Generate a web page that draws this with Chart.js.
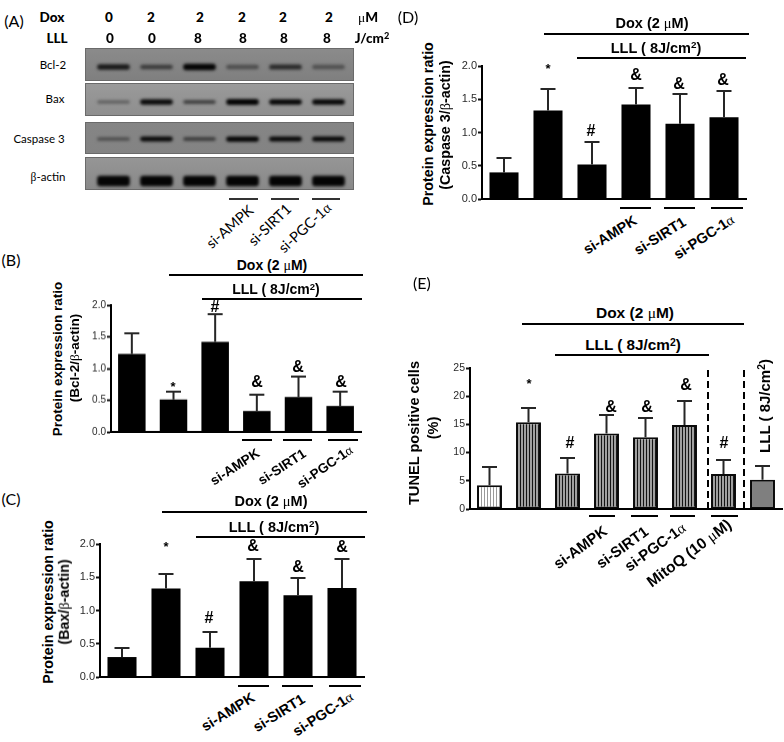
<!DOCTYPE html>
<html><head><meta charset="utf-8">
<script src="https://cdn.jsdelivr.net/npm/chart.js@4"></script>
<style>
html,body{margin:0;padding:0;background:#fff;}
#page{position:relative;width:784px;height:742px;overflow:hidden;background:#fff;}
canvas{position:absolute;}
.t{position:absolute;white-space:nowrap;line-height:1;color:#000;}
.l{position:absolute;background:#000;}
.g{font-family:"Liberation Serif",serif;font-weight:400;}
sup{font-size:.68em;line-height:0;vertical-align:.45em;}
</style></head>
<body><div id="page"></div>
<script>
// ---- data ----
const treatments = ["Control","Dox","Dox+LLL","si-AMPK","si-SIRT1","si-PGC-1α"];
const tunelGroups = ["Control","Dox","Dox+LLL","si-AMPK","si-SIRT1","si-PGC-1α","MitoQ (10 μM)","LLL"];

const bcl2Values = [1.23,0.51,1.42,0.33,0.55,0.41];
const bcl2Tops   = [1.56,0.63,1.85,0.58,0.88,0.63];
const baxValues  = [0.30,1.33,0.44,1.44,1.23,1.34];
const baxTops    = [0.43,1.55,0.68,1.77,1.49,1.77];
const casp3Values= [0.40,1.33,0.52,1.42,1.13,1.23];
const casp3Tops  = [0.62,1.66,0.85,1.67,1.58,1.62];
const tunelValues= [4.2,15.4,6.3,13.4,12.7,14.9,6.2,5.2];
const tunelTops  = [7.5,17.9,9.1,16.6,16.1,19.2,8.6,7.7];

const blotLanes = ["1","2","3","4","5","6"];
const doxRow = ["0","2","2","2","2","2"];
const lllRow = ["0","0","8","8","8","8"];
const bcl2Density  = [0.70,0.42,1.00,0.30,0.55,0.28];
const baxDensity   = [0.18,0.85,0.38,1.00,0.90,0.90];
const casp3Density = [0.30,0.88,0.40,1.00,0.90,0.90];
const actinDensity = [0.95,0.98,1.00,1.00,0.98,1.00];

const page = document.getElementById('page');
const SANS = '"Liberation Sans",Arial,sans-serif', CAL = 'Lato,sans-serif';
const MU = '<span class="g">μ</span>', AL = '<span class="g">α</span>', BE = '<span class="g">β</span>';

function T(html,cx,cy,o={}){
  const d=document.createElement('div');d.className='t';d.innerHTML=html;
  d.style.cssText+=`left:${cx}px;top:${cy}px;font-family:${o.f||SANS};font-size:${o.s||14}px;font-weight:${o.w||700};color:${o.c||'#000'};transform:translate(-50%,-50%) rotate(${o.r||0}deg);`;
  page.appendChild(d);
}
function L(x1,x2,y,h=2,c='#000'){
  const d=document.createElement('div');d.className='l';
  d.style.cssText=`left:${x1}px;width:${x2-x1}px;top:${y-h/2}px;height:${h}px;background:${c};`;
  page.appendChild(d);
}
function stripes(dark,light){
  const c=document.createElement('canvas');c.width=3;c.height=3;
  const x=c.getContext('2d');x.fillStyle=light;x.fillRect(0,0,3,3);x.fillStyle=dark;x.fillRect(0,0,1,3);
  return c;
}

const errorBars={id:'errorBars',afterDatasetsDraw(ch,a,o){
  if(!o.tops)return;
  const ctx=ch.ctx,y=ch.scales.y,m=ch.getDatasetMeta(0);
  ctx.save();ctx.strokeStyle='#262626';ctx.lineWidth=2;
  o.tops.forEach((v,i)=>{
    const b=m.data[i],py=Math.round(y.getPixelForValue(v));
    ctx.beginPath();ctx.moveTo(b.x,b.y);ctx.lineTo(b.x,py);
    ctx.moveTo(b.x-7.5,py);ctx.lineTo(b.x+7.5,py);ctx.stroke();
  });
  ctx.restore();
}};

function barChart(a){
  const c=document.createElement('canvas');
  const W=a.r-a.l+42,H=a.b-a.t+18;
  c.width=W;c.height=H;c.style.left=(a.l-40)+'px';c.style.top=(a.t-10)+'px';
  c.style.width=W+'px';c.style.height=H+'px';page.appendChild(c);
  const ctx=c.getContext('2d');
  let bg=a.bg||'#000',bw=a.bw||0;
  if(a.patterns) bg=a.patterns.map(p=>typeof p==='string'?p:ctx.createPattern(p,'repeat'));
  new Chart(c,{type:'bar',plugins:[errorBars],
    data:{labels:a.labels,datasets:[{data:a.values,backgroundColor:bg,borderColor:'#0a0a0a',borderWidth:bw,borderSkipped:false,barPercentage:1,categoryPercentage:a.bar}]},
    options:{responsive:false,animation:false,devicePixelRatio:1,
      layout:{padding:{left:0,right:2,top:10,bottom:8}},
      plugins:{legend:{display:false},tooltip:{enabled:false},errorBars:{tops:a.tops}},
      scales:{
        x:{type:'category',grid:{display:false},ticks:{display:false},border:{display:true,color:'#000',width:2},afterFit(s){s.height=0;}},
        y:{min:0,max:a.max,afterFit(s){s.width=40;},
           grid:{drawOnChartArea:false,drawTicks:true,tickLength:4,tickColor:'#111',tickWidth:2},
           border:{display:true,color:'#000',width:2},
           ticks:{stepSize:a.step,padding:1,color:'#2a2a2a',font:{family:SANS,size:a.fs},callback:v=>a.dec?v.toFixed(1):String(v)}}
      }}});
}

// ---- western blot (A) ----
const blotRows=[
 {name:'Bcl-2',density:bcl2Density,top:0,bottom:33,band:19,h:6,bg:['#8b8b8b','#7f7f7f']},
 {name:'Bax',density:baxDensity,top:35,bottom:68,band:54,h:5.5,bg:['#9a9a9a','#8e8e8e']},
 {name:'Caspase 3',density:casp3Density,top:74,bottom:106,band:91,h:5,bg:['#858585','#838383']},
 {name:'β-actin',density:actinDensity,top:109,bottom:142,band:133,h:10,bg:['#969696','#888888']}
];
(function(){
  const c=document.createElement('canvas');
  c.width=280;c.height=155;c.style.left='80px';c.style.top='40px';c.style.width='280px';c.style.height='155px';page.appendChild(c);
  const shade=d=>{const v=Math.round(125*Math.pow(1-d,1.5)+4);return `rgb(${v},${v},${v})`;};
  const panels={id:'panels',
    beforeDatasetsDraw(ch){
      const x=ch.ctx,y=ch.scales.y,l=ch.chartArea.left-7,w=ch.chartArea.right+4-l;
      blotRows.forEach(r=>{
        const t=y.getPixelForValue(r.top),b=y.getPixelForValue(r.bottom);
        const g=x.createLinearGradient(0,t,0,b);g.addColorStop(0,r.bg[0]);g.addColorStop(1,r.bg[1]);
        x.fillStyle=g;x.fillRect(l,t,w,b-t);
        x.strokeStyle='#6a6a6a';x.lineWidth=1;x.strokeRect(l+.5,t+.5,w-1,b-t-1);
      });
    },
    beforeDatasetDraw(ch){ch.ctx.save();ch.ctx.filter='blur(1.5px)';},
    afterDatasetDraw(ch){ch.ctx.restore();}
  };
  new Chart(c,{type:'bar',plugins:[panels],
    data:{labels:blotLanes,datasets:blotRows.map(r=>({
      label:r.name,
      data:r.density.map(d=>{const h=r.h*(0.6+0.45*d);return [r.band-h/2,r.band+h/2];}),
      backgroundColor:r.density.map(shade),borderSkipped:false,borderRadius:3,
      barPercentage:.76,categoryPercentage:1,grouped:false}))},
    options:{responsive:false,animation:false,devicePixelRatio:1,
      layout:{padding:{left:12,right:10,top:8,bottom:5}},
      plugins:{legend:{display:false},tooltip:{enabled:false}},
      scales:{x:{display:false},y:{display:false,min:0,max:142,reverse:true}}}});
})();
const topDoxX=[109,151,200,242,283,329], topLllX=[110,152,198,243,284,327];
T('(A)',14,21,{f:CAL,w:400,s:16});
T('Dox',52,18,{f:CAL,s:13.5,w:900});T('LLL',57,39,{f:CAL,s:13.5,w:900});
doxRow.forEach((v,i)=>T(v,topDoxX[i],18,{f:CAL,s:13.5,w:900}));
lllRow.forEach((v,i)=>T(v,topLllX[i],39,{f:CAL,s:13.5,w:900}));
T(MU+'M',368,18,{f:CAL,s:13.5,w:900});T('J/cm<sup>2</sup>',372,39,{f:CAL,s:13.5,w:900});
T('Bcl-2',53,65,{f:CAL,w:400,s:11.5});T('Bax',55,99,{f:CAL,w:400,s:11.5});
T('Caspase 3',39,139,{f:CAL,w:400,s:11.5});T(BE+'-actin',48,177,{f:CAL,w:400,s:11.5});
L(229,258,199,1.5,'#333');L(271,299,199,1.5,'#333');L(312,340,199,1.5,'#333');
T('si-AMPK',230,227,{f:CAL,w:400,s:14.5,r:-41});T('si-SIRT1',270,225,{f:CAL,w:400,s:14.5,r:-44});T('si-PGC-1'+AL,305,228,{f:CAL,w:400,s:14.5,r:-43});

// ---- (B) ----
barChart({labels:treatments,values:bcl2Values,tops:bcl2Tops,l:110.6,r:361,t:305,b:431.7,max:2,step:.5,dec:1,fs:10,bar:.66});
T('(B)',11,260,{f:CAL,w:400,s:16});
T('Protein expression ratio',58,359,{s:13.5,r:-90});T('(Bcl-2/'+BE+'-actin)',75,358,{s:13.5,r:-90});
T('Dox (2 '+MU+'M)',272,265,{s:14});L(169,363,275);
T('LLL ( 8J/cm<sup>2</sup>)',276,289,{s:14});L(202,362,298.5);
L(242,272,440);L(283,312,440);L(328,358,440);
T('*',173,386,{s:13});T('#',215,307,{s:16});T('&amp;',257,382,{s:16});T('&amp;',298,367,{s:16});T('&amp;',341,382,{s:16});
T('si-AMPK',235,467,{s:13.5,r:-33});T('si-SIRT1',282,467,{s:13.5,r:-33});T('si-PGC-1'+AL,325,467,{s:13.5,r:-35});

// ---- (C) ----
barChart({labels:treatments,values:baxValues,tops:baxTops,l:99.5,r:363.5,t:544,b:677.3,max:2,step:.5,dec:1,fs:11,bar:.66});
T('(C)',11,499,{f:CAL,w:400,s:16});
T('Protein expression ratio',48,602,{s:14.3,r:-90});T('(Bax/'+BE+'-actin)',64,602,{s:14.3,r:-90});
T('Dox (2 '+MU+'M)',271,501,{s:14.5});L(162,367,512);
T('LLL ( 8J/cm<sup>2</sup>)',274,527,{s:14.5});L(196,365,537);
L(238,269,686);L(282,313,686);L(329,361,686);
T('*',166,546,{s:13});T('&amp;',253,546,{s:16});T('#',209,618,{s:16});T('&amp;',298,567,{s:16});T('&amp;',342,547,{s:16});
T('si-AMPK',228,712,{s:14.5,r:-32});T('si-SIRT1',279,713,{s:14.5,r:-32});T('si-PGC-1'+AL,323,714,{s:14.5,r:-33});

// ---- (D) ----
barChart({labels:treatments,values:casp3Values,tops:casp3Tops,l:481.5,r:745.5,t:66,b:199.3,max:2,step:.5,dec:1,fs:11,bar:.66});
T('(D)',408,17,{f:CAL,w:400,s:16});
T('Protein expression ratio',428,124,{s:14.3,r:-90});T('(Caspase 3/'+BE+'-actin)',445,125,{s:14.3,r:-90});
T('Dox (2 '+MU+'M)',652,23,{s:14.5});L(544,749,34);
T('LLL ( 8J/cm<sup>2</sup>)',656,48,{s:14.5});L(577,746,58);
L(620,651,208);L(664,695,208);L(711,743,208);
T('*',548,68,{s:13});T('&amp;',636,75,{s:16});T('&amp;',679,84,{s:16});T('&amp;',723,80,{s:16});T('#',591,131,{s:16});
T('si-AMPK',610,235,{s:14.5,r:-32});T('si-SIRT1',660,236,{s:14.5,r:-32});T('si-PGC-1'+AL,704,237,{s:14.5,r:-33});

// ---- (E) ----
const dk=stripes('#141414','#a0a0a0'), lt=stripes('#9a9a9a','#ffffff');
barChart({labels:tunelGroups,values:tunelValues,tops:tunelTops,l:469.7,r:782.5,t:367.7,b:509,max:25,step:5,dec:0,fs:10.5,bar:.64,bw:2,
  patterns:[lt,dk,dk,dk,dk,dk,dk,'#7f7f7f']});
T('(E)',422,283,{f:CAL,w:400,s:16});
T('TUNEL positive cells',414,433,{s:14.6,r:-90});T('(%)',433,428,{s:14.6,r:-90});
T('Dox (2 '+MU+'M)',635,313,{s:15.5});L(522,744,324);
T('LLL ( 8J/cm<sup>2</sup>)',633,345,{s:15.3});L(555,709,355);
L(589,615,516);L(631,658,516);L(670,695,516);L(711,738,516);
T('*',529,383,{s:13});T('#',570,443,{s:16});T('&amp;',611,407,{s:16});T('&amp;',647,407,{s:16});T('&amp;',686,385,{s:16});T('#',724,443,{s:16});
T('si-AMPK',580,547,{s:15,r:-36});T('si-SIRT1',622,547,{s:15,r:-36});T('si-PGC-1'+AL,655,547,{s:15,r:-36});T('MitoQ (10 '+MU+'M)',689,553,{s:15.5,r:-37});
T('LLL ( 8J/cm<sup>2</sup>)',764,406,{s:15,r:-90});
[708,744].forEach(x=>{
  const d=document.createElement('div');
  d.style.cssText=`position:absolute;left:${x-1}px;top:370px;height:139px;width:2px;background:repeating-linear-gradient(to bottom,#000 0,#000 7px,transparent 7px,transparent 11px);`;
  page.appendChild(d);
});
</script></body></html>
